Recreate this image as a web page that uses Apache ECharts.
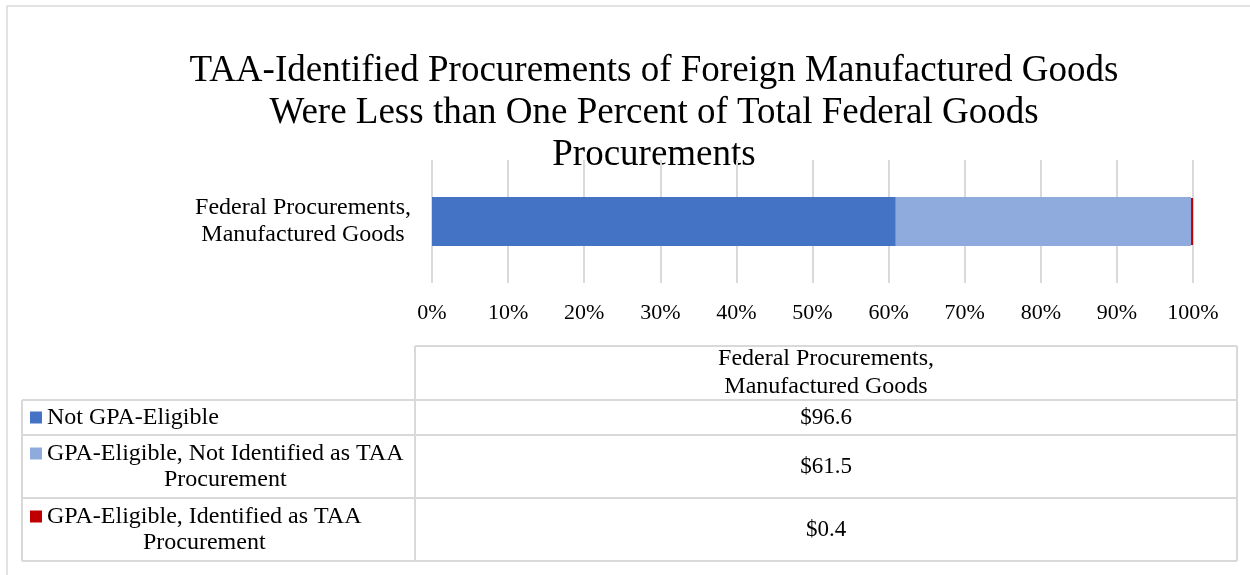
<!DOCTYPE html>
<html>
<head>
<meta charset="utf-8">
<title>TAA-Identified Procurements</title>
<script src="https://cdn.jsdelivr.net/npm/echarts@6/dist/echarts.min.js"></script>
<style>
  html, body { margin: 0; padding: 0; background: #fff; }
  #main { width: 1250px; height: 575px; }
</style>
</head>
<body>
<div id="main"></div>
<script>
// data
var categories = ['Federal Procurements,\nManufactured Goods'];
var seriesNames = [
  'Not GPA-Eligible',
  'GPA-Eligible, Not Identified as TAA\nProcurement',
  'GPA-Eligible, Identified as TAA\nProcurement'
];
var notEligible = [96.6];
var eligibleNotTaa = [61.5];
var eligibleTaa = [0.4];
var tickLabels = ['0%', '10%', '20%', '30%', '40%', '50%', '60%', '70%', '80%', '90%', '100%'];

var colors = ['#4472C4', '#8FAADC', '#C00000'];
var FONT = "'Liberation Serif', 'Times New Roman', serif";
var lineColor = '#d9d9d9';

var raw = [notEligible, eligibleNotTaa, eligibleTaa];
var totals = categories.map(function (c, i) {
  var s = 0;
  for (var k = 0; k < raw.length; k++) s += raw[k][i];
  return s;
});
function share(arr) {
  return arr.map(function (v, i) { return v / totals[i] * 100; });
}

var ctx = document.createElement('canvas').getContext('2d');
function textW(str, size) {
  ctx.font = size + 'px ' + FONT;
  var w = 0;
  str.split('\n').forEach(function (l) { w = Math.max(w, ctx.measureText(l).width); });
  return w;
}

var myChart = echarts.init(document.getElementById('main'));

// table layout
var tblLeft = 22, tblMid = 415, tblRight = 1237;
var rowEdges = [346, 400, 435, 498, 561];
var graphics = [];

// outer frame
graphics.push({
  type: 'rect', silent: true,
  shape: { x: 7, y: 6, width: 1270, height: 600 },
  style: { fill: 'none', stroke: lineColor, lineWidth: 1.5 }
});
// title
graphics.push({
  type: 'text', x: 654, y: 50,
  style: {
    text: 'TAA-Identified Procurements of Foreign Manufactured Goods\nWere Less than One Percent of Total Federal Goods\nProcurements',
    font: '37px ' + FONT, fill: '#000', textAlign: 'center', textVerticalAlign: 'top',
    lineHeight: 42
  }
});

function hLine(x1, x2, y) {
  graphics.push({ type: 'line', silent: true, shape: { x1: x1, y1: y, x2: x2, y2: y },
    style: { stroke: lineColor, lineWidth: 2 } });
}
function vLine(x, y1, y2) {
  graphics.push({ type: 'line', silent: true, shape: { x1: x, y1: y1, x2: x, y2: y2 },
    style: { stroke: lineColor, lineWidth: 2 } });
}
hLine(tblMid, tblRight, rowEdges[0]);
for (var r = 1; r < rowEdges.length; r++) hLine(tblLeft, tblRight, rowEdges[r]);
vLine(tblLeft, rowEdges[1], rowEdges[4]);
vLine(tblMid, rowEdges[0], rowEdges[4]);
vLine(tblRight, rowEdges[0], rowEdges[4]);

var valX = (tblMid + tblRight) / 2;
graphics.push({
  type: 'text', x: valX, y: (rowEdges[0] + rowEdges[1]) / 2,
  style: { text: categories[0], font: '24px ' + FONT, fill: '#000', textAlign: 'center',
    textVerticalAlign: 'middle', lineHeight: 28 }
});
for (var s = 0; s < seriesNames.length; s++) {
  var cy = (rowEdges[s + 1] + rowEdges[s + 2]) / 2;
  var nLines = seriesNames[s].split('\n').length;
  var lh = 26;
  var firstY = cy - (nLines - 1) * lh / 2;
  var w = textW(seriesNames[s], 24);
  graphics.push({
    type: 'rect', silent: true,
    shape: { x: 30, y: firstY - 6, width: 12, height: 12 },
    style: { fill: colors[s] }
  });
  graphics.push({
    type: 'text', x: 47 + w / 2, y: cy,
    style: { text: seriesNames[s], font: '24px ' + FONT, fill: '#000', textAlign: 'center',
      textVerticalAlign: 'middle', lineHeight: lh }
  });
  graphics.push({
    type: 'text', x: valX, y: cy,
    style: { text: '$' + raw[s][0].toFixed(1), font: '23px ' + FONT, fill: '#000',
      textAlign: 'center', textVerticalAlign: 'middle' }
  });
}

var option = {
  animation: false,
  textStyle: { fontFamily: FONT },
  grid: { left: 432, right: 57, top: 160, bottom: 292, containLabel: false },
  xAxis: {
    type: 'value', min: 0, max: 100, interval: 10,
    axisLine: { show: false }, axisTick: { show: false },
    splitLine: { show: true, lineStyle: { color: lineColor, width: 2 } },
    axisLabel: {
      margin: 19, color: '#000', fontSize: 22, fontFamily: FONT,
      formatter: function (v) { return tickLabels[Math.round(v / 10)]; }
    }
  },
  yAxis: {
    type: 'category', data: categories,
    axisLine: { show: false }, axisTick: { show: false },
    axisLabel: { margin: 129, align: 'center', color: '#000', fontSize: 24, lineHeight: 27, fontFamily: FONT }
  },
  series: [
    { name: seriesNames[0], type: 'bar', stack: 'all', barWidth: 49, data: share(notEligible),
      itemStyle: { color: colors[0] } },
    { name: seriesNames[1], type: 'bar', stack: 'all', barWidth: 49, data: share(eligibleNotTaa),
      itemStyle: { color: colors[1] } },
    { name: seriesNames[2], type: 'bar', stack: 'all', barWidth: 49, data: share(eligibleTaa),
      itemStyle: { color: colors[2], borderColor: colors[2], borderWidth: 2 } }
  ],
  graphic: graphics
};

myChart.setOption(option);
window.onresize = myChart.resize;
</script>
</body>
</html>
